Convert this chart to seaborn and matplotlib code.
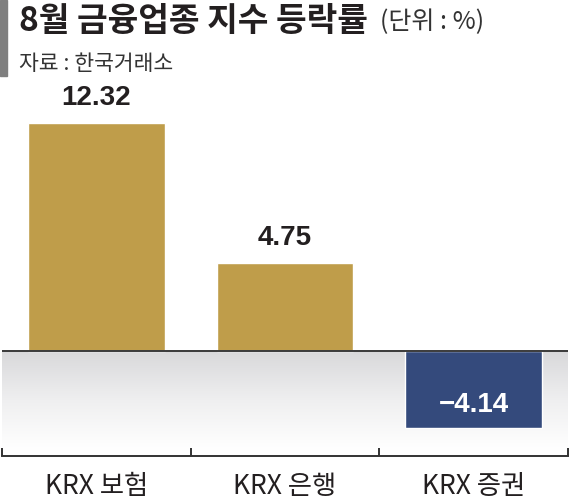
import numpy as np
import matplotlib
matplotlib.use("Agg")
import matplotlib.pyplot as plt
from matplotlib.colors import LinearSegmentedColormap
import seaborn as sns

# Data
categories = ["KRX 보험", "KRX 은행", "KRX 증권"]
values = [12.32, 4.75, -4.14]
value_labels = ["12.32", "4.75", "\u22124.14"]
bar_colors = ["#BF9D4A", "#BF9D4A", "#344A7C"]

title = "8월 금융업종 지수 등락률"
unit_text = "(단위 : %)"
source_text = "자료 : 한국거래소"

sns.set_theme(style="white")
plt.rcParams["font.family"] = ["Noto Sans CJK KR", "DejaVu Sans"]

W, H = 570, 499
fig = plt.figure(figsize=(W / 100, H / 100), dpi=100)

# axes placement in pixels
ax_left, ax_right = 2, 568
ax_top, ax_bottom = 110, 456
ax = fig.add_axes([ax_left / W, 1 - ax_bottom / H,
                   (ax_right - ax_left) / W, (ax_bottom - ax_top) / H])

# y scale: zero line at pixel 351, 18.5 px per unit
px_per_unit = 18.5
zero_px = 351
y_min = -(ax_bottom - zero_px) / px_per_unit
y_max = (zero_px - ax_top) / px_per_unit

# gray gradient band below zero
grad_bottom = -(450 - zero_px) / px_per_unit
cmap = LinearSegmentedColormap.from_list("band", ["#D8D8DA", "#EFEFF0", "#FFFFFF"])
grad = np.linspace(0, 1, 200).reshape(-1, 1)
ax.imshow(grad, extent=(-0.5, 2.5, grad_bottom, 0), aspect="auto",
          cmap=cmap, zorder=0, origin="upper")

sns.barplot(x=categories, y=values, hue=categories, palette=bar_colors,
            width=0.725, legend=False, saturation=1, ax=ax, zorder=2)

ax.axhline(0, color="#3a3a3a", linewidth=1.4, zorder=3)

ax.set_xlim(-0.5, 2.5)
ax.set_ylim(y_min, y_max)

# value labels
for i, (v, lab) in enumerate(zip(values, value_labels)):
    if v >= 0:
        ax.annotate(lab, (i, v), xytext=(0, 9), textcoords="offset points",
                    ha="center", va="bottom", fontsize=20, fontweight="bold",
                    color="#231F20", family=["Liberation Sans", "DejaVu Sans"])
    else:
        ax.text(i, v * 0.7, lab, ha="center", va="center", fontsize=20,
                fontweight="bold", color="white",
                family=["Liberation Sans", "DejaVu Sans"], zorder=4)

# axes styling
for s in ["left", "right", "top"]:
    ax.spines[s].set_visible(False)
ax.spines["bottom"].set_color("#333333")
ax.spines["bottom"].set_linewidth(1.4)
ax.set_yticks([])
ax.set_xticks([-0.5, 0.5, 1.5, 2.5], minor=False)
ax.set_xticklabels([])
ax.tick_params(axis="x", direction="in", length=6, width=1.4, color="#333333", bottom=True)
ax.set_xticks(range(len(categories)), minor=True)
ax.set_xticklabels(categories, minor=True, fontsize=19, color="#231F20")
ax.tick_params(axis="x", which="minor", length=0, pad=12)
ax.set_xlabel("")
ax.set_ylabel("")

# header
fig.patches.append(plt.Rectangle((0, 1 - 76 / H), 7 / W, 76 / H,
                                 transform=fig.transFigure, color="#7F7F7F"))
t = fig.text(19 / W, 1 - 22 / H, title, fontsize=24, fontweight="heavy",
             color="#231F20", va="center", ha="left")
fig.canvas.draw()
bb = t.get_window_extent()
fig.text((bb.x1 + 12) / W, 1 - 22 / H, unit_text, fontsize=18,
         color="#333333", va="center", ha="left")
fig.text(19 / W, 1 - 64 / H, source_text, fontsize=15.5,
         color="#333333", va="center", ha="left")

fig.savefig("out.png", dpi=100)
